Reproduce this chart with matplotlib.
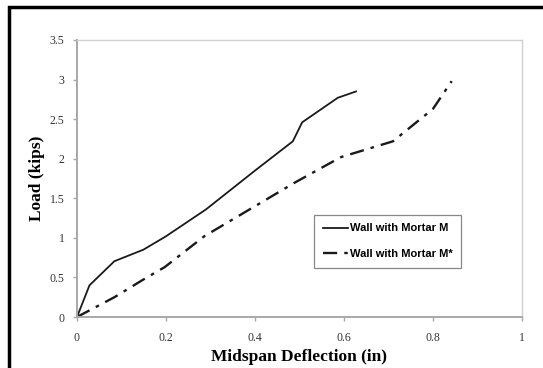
import matplotlib.pyplot as plt
from matplotlib.patches import Rectangle

# data
defl_m = [0, 0.028, 0.084, 0.149, 0.200, 0.290, 0.400, 0.485, 0.506, 0.586, 0.627]
load_m = [0, 0.40, 0.705, 0.85, 1.02, 1.36, 1.85, 2.22, 2.46, 2.77, 2.85]

defl_ms = [0, 0.084, 0.154, 0.197, 0.286, 0.400, 0.490, 0.593, 0.710, 0.800, 0.842]
load_ms = [0, 0.25, 0.49, 0.63, 1.02, 1.40, 1.70, 2.02, 2.22, 2.63, 2.98]

x_ticks = [0, 0.2, 0.4, 0.6, 0.8, 1]
y_ticks = [0, 0.5, 1, 1.5, 2, 2.5, 3, 3.5]
x_labels = ['0', '0.2', '0.4', '0.6', '0.8', '1']
y_labels = ['0', '0.5', '1', '1.5', '2', '2.5', '3', '3.5']

plt.rcParams['font.family'] = ['Liberation Serif', 'DejaVu Serif']

fig = plt.figure(figsize=(5.43, 3.68), dpi=100)
W, H = 543, 368
ax = fig.add_axes([77 / W, 1 - 317 / H, 445 / W, 277 / H])

ax.plot(defl_m, load_m, color='#1a1a1a', lw=1.3, ls='-',
        label='Wall with Mortar M')
ax.plot(defl_ms, load_ms, color='#1a1a1a', lw=1.7, ls=(0, (6, 3, 1.5, 3)),
        label='Wall with Mortar M*')

ax.set_xlim(0, 1)
ax.set_ylim(0, 3.5)
ax.set_xticks(x_ticks)
ax.set_xticklabels(x_labels)
ax.set_yticks(y_ticks)
ax.set_yticklabels(y_labels)

for s in ['left', 'bottom']:
    ax.spines[s].set_color('#a8a8a8')
    ax.spines[s].set_linewidth(1.4)
for s in ['top', 'right']:
    ax.spines[s].set_color('#d0d0d0')
    ax.spines[s].set_linewidth(1.0)

ax.tick_params(axis='both', direction='out', length=3, width=1,
               color='#a8a8a8', labelsize=8.5, labelcolor='#333333')
ax.tick_params(axis='x', pad=7.5)
ax.tick_params(axis='y', pad=6)

# x label sits right at the bottom edge in the reference
fig.text(299 / W, 3 / H, 'Midspan Deflection (in)', ha='center', va='bottom',
         fontsize=12.5, fontweight='bold')
ax.set_ylabel('Load (kips)', fontsize=12.5, fontweight='bold', labelpad=3)

leg = ax.legend(loc='upper left', bbox_to_anchor=(0.52, 0.39),
                prop={'family': 'Liberation Sans', 'weight': 'bold', 'size': 8},
                handlelength=2.3, handletextpad=0.1, labelspacing=1.4,
                borderpad=0.8, fancybox=False, framealpha=1,
                edgecolor='#888888')
leg.get_frame().set_linewidth(0.9)

# black frame around the picture, cut on right and bottom
fig.patches.append(Rectangle((9 / W, -0.1), 1.2, 1 - 7 / H + 0.1,
                             transform=fig.transFigure, fill=False,
                             edgecolor='black', lw=2.5))

fig.savefig('out.png', dpi=100)
